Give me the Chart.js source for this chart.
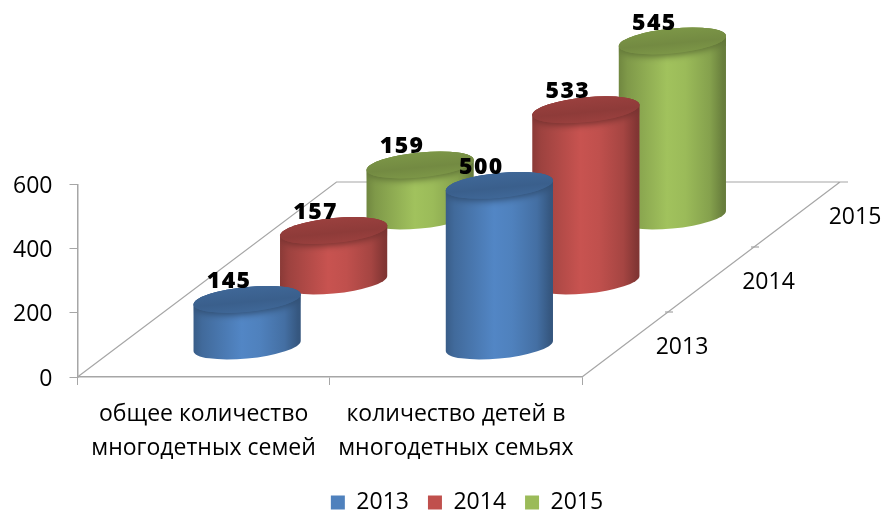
<!DOCTYPE html>
<html><head><meta charset="utf-8">
<style>html,body{margin:0;padding:0;background:#fff;overflow:hidden}#w{width:883px;height:511px;position:relative}canvas{display:block}</style>
<script src="https://cdn.jsdelivr.net/npm/chart.js@4/dist/chart.umd.js"></script>
</head><body><div id="w"><canvas id="c" width="883" height="511"></canvas></div>
<script>
const categories = [['общее количество','многодетных семей'],['количество детей в','многодетных семьях']];
const seriesNames = ['2013','2014','2015'];
const values2013 = [145,500];
const values2014 = [157,533];
const values2015 = [159,545];
const seriesColors = ['#4F81BD','#C0504D','#9BBB59'];

const FONT = '"Open Sans", sans-serif';
const AXIS = '#a6a6a6';
// depth projection of the 3D floor
const rowDX = 86.5, rowDY = -65, rowX0 = 43.5, rowY0 = -31;
const floorDX = 258, floorDY = -195;

function shade(hex, f){
  const n = parseInt(hex.slice(1),16);
  const c = [n>>16,(n>>8)&255,n&255].map(v=>Math.min(255,Math.round(v*f)));
  return `rgb(${c[0]},${c[1]},${c[2]})`;
}

const cylinders = {
  id:'cylinders',
  beforeDatasetsDraw(chart){
    const {ctx,chartArea:ca} = chart;
    const yS = chart.scales.y;
    // floor
    ctx.save();
    ctx.strokeStyle = '#a6a6a6'; ctx.lineWidth = 1.2;
    ctx.beginPath();
    ctx.moveTo(ca.left,ca.bottom);
    ctx.lineTo(ca.left+floorDX+1,ca.bottom+floorDY);
    ctx.lineTo(ca.right+floorDX+8,ca.bottom+floorDY);
    ctx.moveTo(ca.right+floorDX,ca.bottom+floorDY);
    ctx.lineTo(ca.right,ca.bottom);
    ctx.stroke();
    ctx.font = '23px '+FONT; ctx.fillStyle = '#000';
    ctx.textAlign='center'; ctx.textBaseline='middle';
    seriesNames.forEach((n,i)=>{
      const f=(i+1)/3;
      const tx=ca.right+floorDX*f, ty=ca.bottom+floorDY*f;
      if(i<2){ctx.beginPath(); ctx.moveTo(tx-3,ty); ctx.lineTo(tx+5,ty); ctx.stroke();}
      ctx.fillText(n, ca.right+100+rowDX*i, ca.bottom-30+rowDY*i);
    });
    ctx.restore();
    const labels=[];
    for(let i=2;i>=0;i--){
      const meta = chart.getDatasetMeta(i);
      const col = chart.data.datasets[i].backgroundColor;
      meta.data.forEach((el,j)=>{
        const a = el.width/2, b = 12.5, s = -0.093;
        const cx = el.x + rowX0 + rowDX*i;
        const baseY = yS.getPixelForValue(0) + rowY0 + rowDY*i;
        const H = yS.getPixelForValue(0) - el.y;
        ctx.save();
        ctx.translate(cx,baseY);
        ctx.transform(1,s,0,1,0,0);
        const g = ctx.createLinearGradient(-a,0,a,0);
        g.addColorStop(0,shade(col,.72));
        g.addColorStop(.08,shade(col,.82));
        g.addColorStop(.45,shade(col,1.04));
        g.addColorStop(.62,shade(col,1.0));
        g.addColorStop(.85,shade(col,.86));
        g.addColorStop(.97,shade(col,.68));
        g.addColorStop(1,shade(col,.66));
        ctx.fillStyle = g;
        ctx.beginPath();
        ctx.ellipse(0,0,a,b,0,0,Math.PI);
        ctx.ellipse(0,-H,a,b,0,Math.PI,2*Math.PI);
        ctx.closePath();
        ctx.fill();
        ctx.save();
        ctx.clip();
        ctx.shadowColor = shade(col,.6);
        ctx.shadowBlur = 7;
        ctx.shadowOffsetY = 2;
        ctx.fillStyle = shade(col,.76);
        ctx.beginPath();
        ctx.ellipse(0,-H,a,b,0,0,2*Math.PI);
        ctx.fill();
        ctx.restore();
        const t = ctx.createLinearGradient(0,-H-b,0,-H+b);
        t.addColorStop(0,shade(col,.8));
        t.addColorStop(.6,shade(col,.74));
        t.addColorStop(1,shade(col,.8));
        ctx.fillStyle = t;
        ctx.beginPath();
        ctx.ellipse(0,-H,a,b,0,0,2*Math.PI);
        ctx.fill();
        ctx.restore();
        labels.push({t:chart.data.datasets[i].data[j],x:cx-18,y:baseY-H-18});
      });
    }
    ctx.save();
    ctx.font = '800 23px '+FONT; ctx.fillStyle='#000';
    ctx.letterSpacing='1.5px';
    ctx.textAlign='center'; ctx.textBaseline='middle';
    labels.forEach(l=>ctx.fillText(String(l.t),l.x,l.y));
    ctx.restore();
    return false;
  },
  beforeDraw(chart){
    const lg = chart.legend;
    if(!lg._moved){ lg._moved=true; lg.left+=176; lg.right+=176; lg.top = 472; }
  }
};

new Chart(document.getElementById('c'),{
  type:'bar',
  data:{labels:categories,datasets:[
    {label:seriesNames[0],data:values2013,backgroundColor:seriesColors[0]},
    {label:seriesNames[1],data:values2014,backgroundColor:seriesColors[1]},
    {label:seriesNames[2],data:values2015,backgroundColor:seriesColors[2]}
  ]},
  plugins:[cylinders],
  options:{
    responsive:false,animation:false,
    layout:{padding:{top:184.3,right:301,left:0,bottom:0}},
    datasets:{bar:{grouped:false,categoryPercentage:0.425,barPercentage:1}},
    scales:{
      x:{
        afterFit(s){ s.height = 134 - (s.chart.legend?s.chart.legend.height:0); },
        grid:{drawOnChartArea:false,color:AXIS,tickLength:8},
        border:{color:AXIS,width:1.5},
        ticks:{color:'#000',maxRotation:0,minRotation:0,autoSkip:false,padding:12,font:{family:FONT,size:23,lineHeight:1.48}}
      },
      y:{
        min:0,max:600,
        afterFit(s){ s.width = 77.5; },
        grid:{drawOnChartArea:false,color:AXIS,tickLength:8},
        border:{color:AXIS,width:1.5},
        ticks:{color:'#000',stepSize:200,padding:17,labelOffset:2,font:{family:FONT,size:23}}
      }
    },
    plugins:{
      tooltip:{enabled:false},
      legend:{position:'bottom',labels:{boxWidth:14,boxHeight:14,padding:19,color:'#000',font:{family:FONT,size:23}}}
    }
  }
});
</script>
</body></html>
